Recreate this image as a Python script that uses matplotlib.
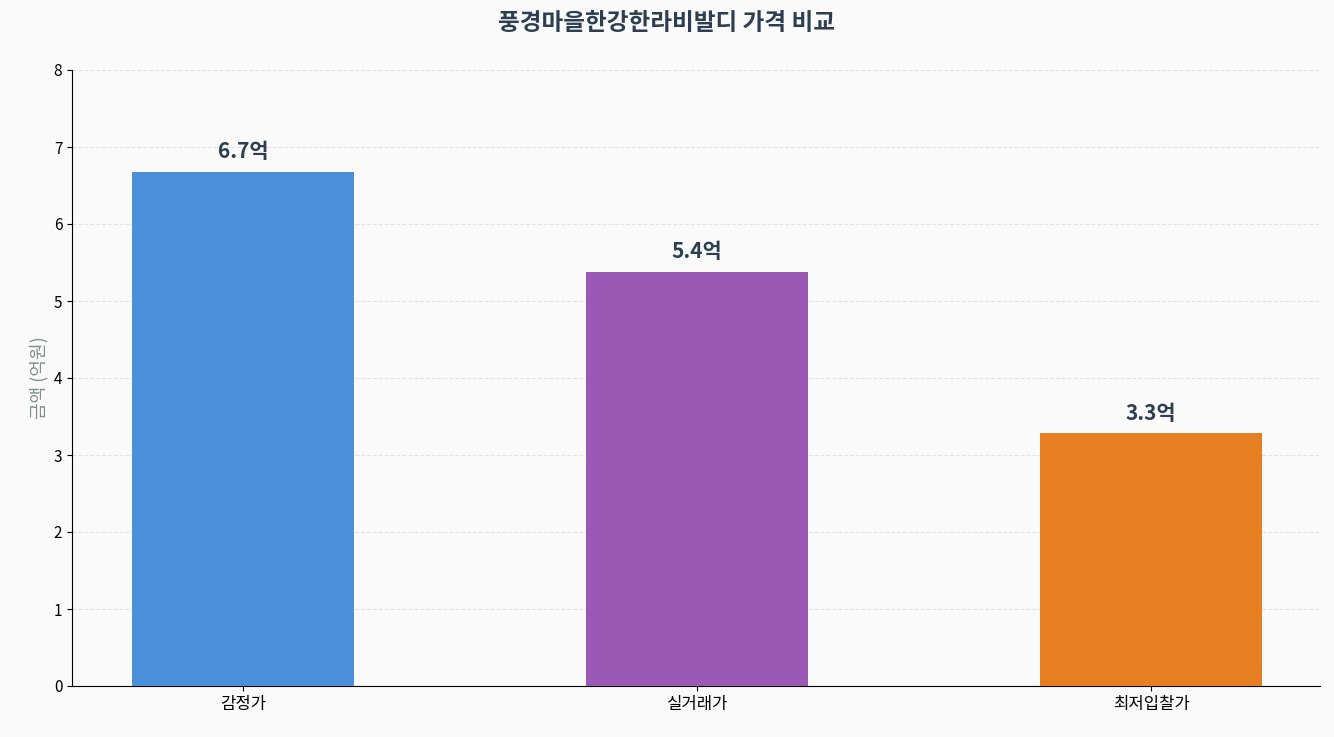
import matplotlib
matplotlib.use("Agg")
import matplotlib.pyplot as plt

plt.rcParams['font.family'] = ['Noto Sans CJK KR', 'DejaVu Sans']

categories = ['감정가', '실거래가', '최저입찰가']
values = [6.68, 5.38, 3.28]
labels = ['6.7억', '5.4억', '3.3억']
colors = ['#4A90D9', '#9B59B6', '#E67E22']

fig = plt.figure(figsize=(13.34, 7.37), dpi=100, facecolor='#FAFAFA')
ax = fig.add_axes([72/1334, 1-686/737, (1320-72)/1334, (686-70)/737])
ax.set_facecolor('#FAFAFA')
x = list(range(len(categories)))
ax.bar(x, values, width=0.49, color=colors, zorder=3)
for xi, v, l in zip(x, values, labels):
    ax.text(xi, v + 0.12, l, ha='center', va='bottom', fontsize=15, fontweight='bold', color='#2C3E50')
ax.set_xticks(x)
ax.set_xticklabels(categories, fontsize=12)
ax.set_xlim(-0.377, 2.372)
ax.set_ylim(0, 8)
ax.set_yticks(range(9))
ax.tick_params(axis='y', labelsize=11)
ax.set_ylabel('금액 (억원)', fontsize=13, color='#7F8C8D')
ax.grid(axis='y', linestyle='--', color='#DDDDDD', alpha=0.8, zorder=0)
ax.spines['top'].set_visible(False)
ax.spines['right'].set_visible(False)
fig.suptitle('풍경마을한강한라비발디 가격 비교', fontsize=17, fontweight='bold', color='#2C3E50', y=0.985)
fig.savefig('out.png', dpi=100, facecolor='#FAFAFA')
